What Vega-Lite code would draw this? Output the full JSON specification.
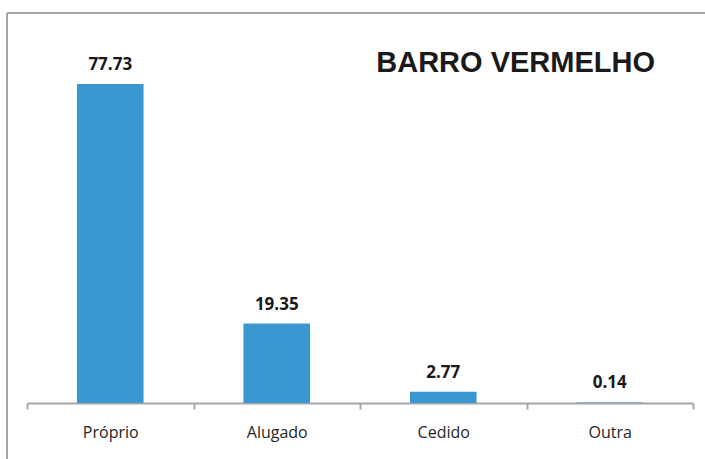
{
  "$schema": "https://vega.github.io/schema/vega-lite/v6.json",
  "width": 698,
  "height": 446,
  "autosize": {"type": "none"},
  "padding": {"left": 7, "top": 13, "right": 0, "bottom": 0},
  "background": "#ffffff",
  "title": {
    "text": "BARRO VERMELHO",
    "anchor": "end",
    "frame": "group",
    "orient": "top",
    "offset": 0,
    "baseline": "alphabetic",
    "dy": 88,
    "dx": -50,
    "font": "Liberation Sans",
    "fontSize": 29,
    "fontWeight": "bold",
    "color": "#1a1a1a"
  },
  "config": {
    "view": {"stroke": "#a6a6a6", "strokeWidth": 2, "strokeDash": [698, 1144, 446, 0]}
  },
  "data": {
    "values": [
      {"cat": "Próprio", "v": 77.73},
      {"cat": "Alugado", "v": 19.35},
      {"cat": "Cedido", "v": 2.77},
      {"cat": "Outra", "v": 0.14}
    ]
  },
  "encoding": {
    "x": {
      "field": "cat",
      "type": "nominal",
      "sort": null,
      "scale": {"range": [20, 686], "paddingInner": 0, "paddingOuter": 0},
      "axis": {
        "title": null,
        "orient": "bottom",
        "offset": -56,
        "domainColor": "#a6a6a6",
        "domainWidth": 2,
        "tickColor": "#a6a6a6",
        "tickWidth": 2,
        "tickSize": 6,
        "tickBand": "extent",
        "labelAngle": 0,
        "labelFont": "Open Sans",
        "labelFontSize": 16,
        "labelColor": "#262626",
        "labelPadding": 15
      }
    },
    "y": {
      "field": "v",
      "type": "quantitative",
      "scale": {"domain": [0, 95], "range": [390, 0]},
      "axis": null
    }
  },
  "layer": [
    {"mark": {"type": "bar", "color": "#3a97cf", "width": {"band": 0.4}}},
    {
      "mark": {
        "type": "text",
        "dy": -14,
        "baseline": "alphabetic",
        "font": "Open Sans",
        "fontSize": 17,
        "fontWeight": "bold",
        "color": "#1a1a1a"
      },
      "encoding": {"text": {"field": "v", "type": "quantitative", "format": ".2f"}}
    }
  ]
}
